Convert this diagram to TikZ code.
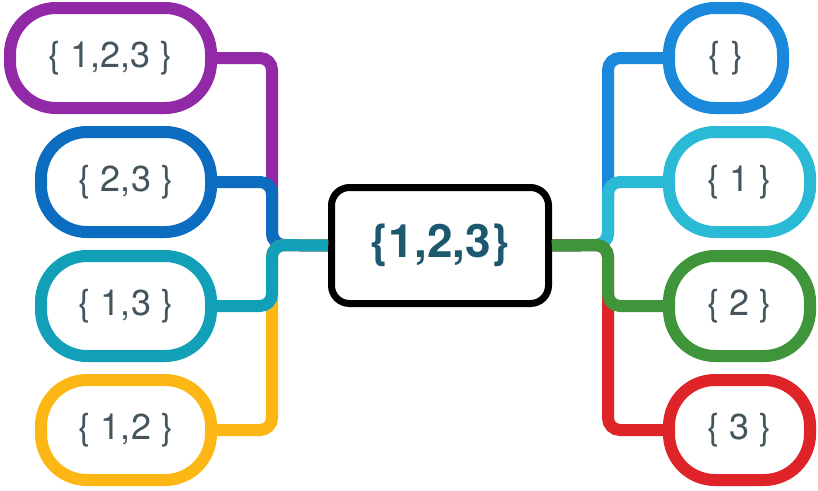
\documentclass[tikz,border=0pt]{standalone}
\usepackage{fontspec}
\setmainfont{TeX Gyre Heros}
\usepackage{tikz}
\definecolor{morado}{HTML}{922AA8}
\definecolor{azul}{HTML}{0B6CC0}
\definecolor{turquesa}{HTML}{12A0B8}
\definecolor{amarillo}{HTML}{FDB714}
\definecolor{azulclaro}{HTML}{1A88DB}
\definecolor{cian}{HTML}{2BBAD5}
\definecolor{verde}{HTML}{3E953A}
\definecolor{rojo}{HTML}{DE2329}
\definecolor{gristexto}{HTML}{45555E}
\definecolor{textohub}{HTML}{1C586E}

\begin{document}
\begin{tikzpicture}[x=1pt, y=-1pt,
    conjunto/.style={draw, fill=white, line width=12pt, rounded corners=46pt,
      minimum width=170pt, minimum height=100pt, inner sep=0pt,
      text=gristexto, font=\fontsize{36}{42}\selectfont},
    hub/.style={draw=black, fill=white, line width=7pt, rounded corners=18pt,
      minimum width=217pt, minimum height=116pt, inner sep=0pt,
      text=textohub, font=\bfseries\fontsize{46}{52}\selectfont},
    enlace/.style={line width=12pt, rounded corners=12pt}]
  \useasboundingbox (0,0) rectangle (818,490);

  % Conjuntos
  \node[hub] (A) at (440,245.5) {\{1,2,3\}};
  \node[conjunto, draw=morado, minimum width=201pt] (s123) at (110.5,58) {\{ 1,2,3 \}};
  \node[conjunto, draw=azul] (s23) at (126,182) {\{ 2,3 \}};
  \node[conjunto, draw=turquesa] (s13) at (126,306) {\{ 1,3 \}};
  \node[conjunto, draw=amarillo] (s12) at (126,430) {\{ 1,2 \}};
  \node[conjunto, draw=azulclaro, minimum width=114pt] (s0) at (726,58) {\{ \}};
  \node[conjunto, draw=cian, minimum width=141pt] (s1) at (739.5,182) {\{ 1 \}};
  \node[conjunto, draw=verde, minimum width=141pt] (s2) at (739.5,306) {\{ 2 \}};
  \node[conjunto, draw=rojo, minimum width=141pt] (s3) at (739.5,430) {\{ 3 \}};

  % Conexiones
  \coordinate (izq) at (272,245);
  \coordinate (der) at (608,245);
  \draw[enlace, morado] (s123.east) -| (izq) -- (A.west);
  \draw[enlace, azul] (s23.east) -| (izq) -- (A.west);
  \draw[enlace, amarillo] (s12.east) -| (izq) -- (A.west);
  \draw[enlace, turquesa] (s13.east) -| (izq) -- (A.west);
  \draw[enlace, azulclaro] (A.east) -- (der) |- (s0.west);
  \draw[enlace, cian] (A.east) -- (der) |- (s1.west);
  \draw[enlace, rojo] (A.east) -- (der) |- (s3.west);
  \draw[enlace, verde] (A.east) -- (der) |- (s2.west);
\end{tikzpicture}
\end{document}
